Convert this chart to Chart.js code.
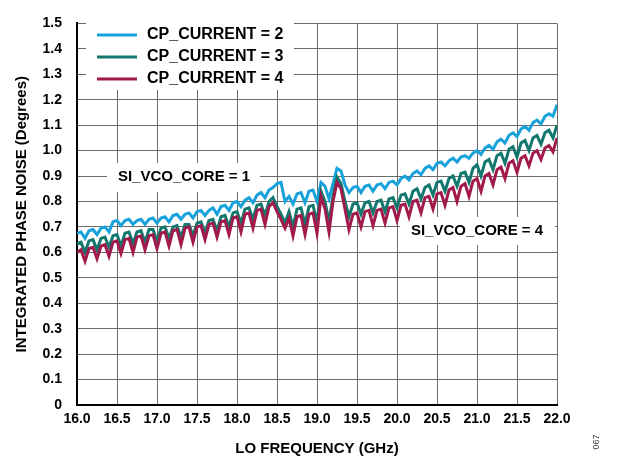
<!DOCTYPE html>
<html lang="en">
<head>
  <meta charset="UTF-8" />
  <title>Integrated Phase Noise vs LO Frequency</title>
  <script src="https://cdn.jsdelivr.net/npm/chart.js"></script>
  <style>
    html, body { margin: 0; padding: 0; background: #fff; }
    #wrap { width: 618px; height: 460px; }
  </style>
</head>
<body>
  <div id="wrap"><canvas id="pnChart" width="618" height="460"></canvas></div>

<script>
  // LO frequency, GHz
  const freq = [
    16.00, 16.05, 16.10, 16.15, 16.20, 16.25, 16.30, 16.35, 16.40, 16.45,
    16.50, 16.55, 16.60, 16.65, 16.70, 16.75, 16.80, 16.85, 16.90, 16.95,
    17.00, 17.05, 17.10, 17.15, 17.20, 17.25, 17.30, 17.35, 17.40, 17.45,
    17.50, 17.55, 17.60, 17.65, 17.70, 17.75, 17.80, 17.85, 17.90, 17.95,
    18.00, 18.05, 18.10, 18.15, 18.20, 18.25, 18.30, 18.35, 18.40, 18.45,
    18.50, 18.55, 18.60, 18.65, 18.70, 18.75, 18.80, 18.85, 18.90, 18.95,
    19.00, 19.05, 19.10, 19.15, 19.20, 19.25, 19.30, 19.35, 19.40, 19.45,
    19.50, 19.55, 19.60, 19.65, 19.70, 19.75, 19.80, 19.85, 19.90, 19.95,
    20.00, 20.05, 20.10, 20.15, 20.20, 20.25, 20.30, 20.35, 20.40, 20.45,
    20.50, 20.55, 20.60, 20.65, 20.70, 20.75, 20.80, 20.85, 20.90, 20.95,
    21.00, 21.05, 21.10, 21.15, 21.20, 21.25, 21.30, 21.35, 21.40, 21.45,
    21.50, 21.55, 21.60, 21.65, 21.70, 21.75, 21.80, 21.85, 21.90, 21.95,
    22.00
  ];

  // integrated phase noise, degrees
  const cp2 = [
    0.675, 0.680, 0.655, 0.685, 0.690, 0.670, 0.695, 0.700, 0.680, 0.720,
    0.725, 0.705, 0.725, 0.730, 0.710, 0.725, 0.730, 0.710, 0.730, 0.735,
    0.715, 0.735, 0.740, 0.720, 0.745, 0.750, 0.730, 0.750, 0.755, 0.735,
    0.760, 0.765, 0.745, 0.765, 0.775, 0.750, 0.780, 0.785, 0.765, 0.795,
    0.800, 0.780, 0.805, 0.815, 0.795, 0.825, 0.835, 0.815, 0.845, 0.855,
    0.870, 0.875, 0.800, 0.820, 0.790, 0.830, 0.835, 0.795, 0.840, 0.845,
    0.800, 0.875, 0.860, 0.810, 0.870, 0.930, 0.920, 0.865, 0.835, 0.855,
    0.860, 0.835, 0.860, 0.865, 0.840, 0.865, 0.870, 0.850, 0.875, 0.880,
    0.865, 0.890, 0.900, 0.885, 0.910, 0.920, 0.905, 0.930, 0.940, 0.925,
    0.950, 0.955, 0.940, 0.960, 0.970, 0.955, 0.975, 0.980, 0.970, 0.990,
    1.000, 0.985, 1.010, 1.020, 1.005, 1.035, 1.045, 1.030, 1.060, 1.070,
    1.055, 1.085, 1.095, 1.080, 1.110, 1.120, 1.105, 1.135, 1.145, 1.135,
    1.180
  ];
  const cp3 = [
    0.635, 0.640, 0.600, 0.645, 0.650, 0.610, 0.655, 0.660, 0.620, 0.665,
    0.670, 0.625, 0.675, 0.680, 0.635, 0.680, 0.685, 0.640, 0.690, 0.690,
    0.645, 0.695, 0.700, 0.655, 0.700, 0.705, 0.660, 0.710, 0.710, 0.665,
    0.715, 0.720, 0.675, 0.725, 0.730, 0.685, 0.740, 0.745, 0.700, 0.755,
    0.760, 0.715, 0.770, 0.775, 0.730, 0.785, 0.790, 0.745, 0.800, 0.815,
    0.780, 0.750, 0.715, 0.760, 0.700, 0.770, 0.775, 0.710, 0.780, 0.785,
    0.720, 0.840, 0.800, 0.720, 0.820, 0.895, 0.870, 0.800, 0.740, 0.790,
    0.795, 0.750, 0.795, 0.800, 0.755, 0.800, 0.805, 0.760, 0.810, 0.815,
    0.775, 0.825, 0.830, 0.790, 0.840, 0.850, 0.810, 0.855, 0.865, 0.825,
    0.875, 0.880, 0.840, 0.890, 0.900, 0.860, 0.910, 0.915, 0.875, 0.930,
    0.945, 0.900, 0.955, 0.965, 0.925, 0.980, 0.990, 0.950, 1.005, 1.015,
    0.975, 1.030, 1.040, 1.000, 1.050, 1.060, 1.025, 1.070, 1.080, 1.050,
    1.100
  ];
  const cp4 = [
    0.600, 0.610, 0.565, 0.615, 0.620, 0.575, 0.625, 0.630, 0.585, 0.640,
    0.645, 0.595, 0.650, 0.655, 0.600, 0.660, 0.665, 0.610, 0.665, 0.670,
    0.615, 0.675, 0.680, 0.625, 0.685, 0.690, 0.630, 0.695, 0.700, 0.640,
    0.700, 0.705, 0.650, 0.710, 0.715, 0.660, 0.720, 0.725, 0.670, 0.735,
    0.740, 0.680, 0.750, 0.755, 0.695, 0.765, 0.770, 0.710, 0.780, 0.795,
    0.760, 0.730, 0.695, 0.735, 0.665, 0.740, 0.745, 0.670, 0.750, 0.755,
    0.675, 0.820, 0.770, 0.680, 0.800, 0.875, 0.850, 0.770, 0.690, 0.750,
    0.755, 0.700, 0.760, 0.765, 0.705, 0.765, 0.770, 0.715, 0.775, 0.780,
    0.725, 0.785, 0.790, 0.740, 0.800, 0.805, 0.755, 0.815, 0.820, 0.770,
    0.830, 0.835, 0.785, 0.845, 0.855, 0.800, 0.860, 0.870, 0.820, 0.880,
    0.890, 0.840, 0.900, 0.910, 0.865, 0.925, 0.935, 0.890, 0.950, 0.960,
    0.915, 0.970, 0.980, 0.940, 0.990, 1.000, 0.965, 1.010, 1.020, 0.995,
    1.050
  ];

  const seriesLabels = ["CP_CURRENT = 2", "CP_CURRENT = 3", "CP_CURRENT = 4"];
  const seriesColors = ["#18a2db", "#12786d", "#a11a4b"];
  const noteLabels = ["SI_VCO_CORE = 1", "SI_VCO_CORE = 4"];
  const figNumber = "067";

  const FONT = "'Liberation Sans', Arial, sans-serif";

  const toPoints = ys => freq.map((f, i) => ({ x: f, y: ys[i] }));

  // white legend box + annotation boxes inside the plot
  const overlayPlugin = {
    id: "overlay",
    beforeDatasetsDraw(chart) {
      const ctx = chart.ctx;
      ctx.save();
      ctx.fillStyle = "#fff";
      ctx.fillRect(86, 21, 208, 69);
      ctx.fillRect(107, 163, 153, 29);
      ctx.fillRect(400, 217, 155, 28);

      ctx.font = "bold 16px " + FONT;
      ctx.textBaseline = "middle";
      ctx.textAlign = "left";
      const rows = [35, 57, 79];
      seriesLabels.forEach((lbl, i) => {
        ctx.strokeStyle = seriesColors[i];
        ctx.lineWidth = 3;
        ctx.beginPath();
        ctx.moveTo(97, rows[i]);
        ctx.lineTo(137, rows[i]);
        ctx.stroke();
        ctx.fillStyle = "#000";
        ctx.fillText(lbl, 147, rows[i]);
      });

      ctx.font = "bold 15px " + FONT;
      ctx.textAlign = "center";
      ctx.fillText(noteLabels[0], 184, 177);
      ctx.fillText(noteLabels[1], 477, 231);
      ctx.restore();
    },
    afterDraw(chart) {
      const ctx = chart.ctx;
      ctx.save();
      ctx.translate(597, 442);
      ctx.rotate(-Math.PI / 2);
      ctx.font = "9px " + FONT;
      ctx.fillStyle = "#444";
      ctx.textAlign = "center";
      ctx.textBaseline = "middle";
      ctx.fillText(figNumber, 0, 0);
      ctx.restore();
    }
  };

  const ctx = document.getElementById("pnChart").getContext("2d");
  new Chart(ctx, {
    type: "line",
    data: {
      datasets: [cp2, cp3, cp4].map((ys, i) => ({
        label: seriesLabels[i],
        data: toPoints(ys),
        borderColor: seriesColors[i],
        borderWidth: 3,
        pointRadius: 0,
        tension: 0,
        fill: false
      })).reverse()
    },
    options: {
      responsive: false,
      animation: false,
      layout: { padding: { left: 0, right: 61, top: 16, bottom: 0 } },
      plugins: {
        legend: { display: false },
        tooltip: { enabled: false }
      },
      scales: {
        x: {
          type: "linear",
          min: 16,
          max: 22,
          afterFit: s => { s.height = 55; },
          ticks: {
            stepSize: 0.5,
            padding: 6,
            color: "#000",
            font: { family: FONT, size: 14, weight: "bold" },
            callback: v => v.toFixed(1)
          },
          grid: { color: "#6b6b6b", lineWidth: 1, drawTicks: false },
          border: { color: "#000", width: 2 },
          title: {
            display: true,
            text: "LO FREQUENCY (GHz)",
            color: "#000",
            font: { family: FONT, size: 15, weight: "bold" },
            padding: { top: 0, bottom: 2 }
          }
        },
        y: {
          min: 0,
          max: 1.5,
          afterFit: s => { s.width = 77; },
          ticks: {
            stepSize: 0.1,
            padding: 15,
            color: "#000",
            font: { family: FONT, size: 14, weight: "bold" },
            callback: v => (Math.abs(v) < 1e-9 ? "0" : v.toFixed(1))
          },
          grid: { color: "#6b6b6b", lineWidth: 1, drawTicks: false },
          border: { color: "#000", width: 2 },
          title: {
            display: true,
            text: "INTEGRATED PHASE NOISE (Degrees)",
            color: "#000",
            font: { family: FONT, size: 15, weight: "bold" },
            padding: { top: 13, bottom: 0 }
          }
        }
      }
    },
    plugins: [overlayPlugin]
  });
</script>
</body>
</html>
